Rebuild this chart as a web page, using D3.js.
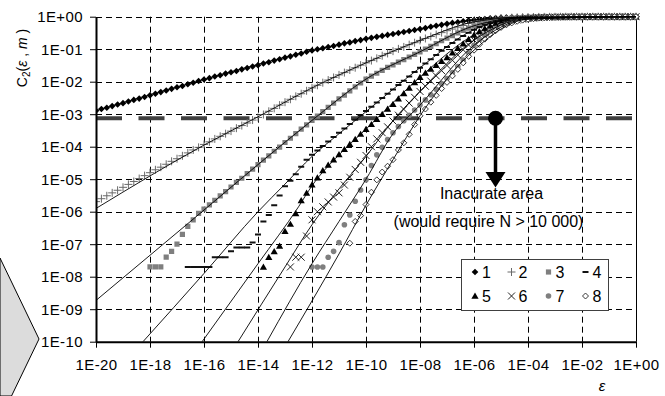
<!DOCTYPE html>
<html><head><meta charset="utf-8">
<script src="https://cdnjs.cloudflare.com/ajax/libs/d3/7.8.5/d3.min.js"></script>
<style>
body{margin:0;background:#fff}
svg{display:block}
text{font-family:"Liberation Sans",Arial,sans-serif;fill:#000}
</style>
</head><body>
<svg id="chart" width="665" height="396"></svg>
<script>
// ---------- DATA (log10 values) ----------
const xTickValues = [1e-20,1e-18,1e-16,1e-14,1e-12,1e-10,1e-8,1e-6,1e-4,1e-2,1];
const xTickLabels = ["1E-20","1E-18","1E-16","1E-14","1E-12","1E-10","1E-08","1E-06","1E-04","1E-02","1E+00"];
const yTickValues = [1e-10,1e-9,1e-8,1e-7,1e-6,1e-5,1e-4,1e-3,1e-2,1e-1,1];
const yTickLabels = ["1E-10","1E-09","1E-08","1E-07","1E-06","1E-05","1E-04","1E-03","1E-02","1E-01","1E+00"];
const seriesNames = ["1","2","3","4","5","6","7","8"];
const thresholdC = 7.5e-4;

// log10(epsilon) sampling of the measured points
const logEps = [
-20,-19.8,-19.6,-19.4,-19.2,-19,-18.8,-18.6,-18.4,-18.2,
-18,-17.8,-17.6,-17.4,-17.2,-17,-16.8,-16.6,-16.4,-16.2,
-16,-15.8,-15.6,-15.4,-15.2,-15,-14.8,-14.6,-14.4,-14.2,
-14,-13.8,-13.6,-13.4,-13.2,-13,-12.8,-12.6,-12.4,-12.2,
-12,-11.8,-11.6,-11.4,-11.2,-11,-10.8,-10.6,-10.4,-10.2,
-10,-9.8,-9.6,-9.4,-9.2,-9,-8.8,-8.6,-8.4,-8.2,
-8,-7.8,-7.6,-7.4,-7.2,-7,-6.8,-6.6,-6.4,-6.2,
-6,-5.8,-5.6,-5.4,-5.2,-5,-4.8,-4.6,-4.4,-4.2,
-4,-3.8,-3.6,-3.4,-3.2,-3,-2.8,-2.6,-2.4,-2.2,
-2,-1.8,-1.6,-1.4,-1.2,-1,-0.8,-0.6,-0.4,-0.2,
0];

// log10 C2(eps, m) for m = 1..8
const logC_m1 = [
-2.89,-2.84,-2.80,-2.75,-2.70,-2.66,-2.61,-2.56,-2.52,-2.47,
-2.42,-2.37,-2.32,-2.27,-2.22,-2.17,-2.13,-2.08,-2.03,-1.98,
-1.93,-1.89,-1.84,-1.80,-1.75,-1.71,-1.67,-1.62,-1.58,-1.53,
-1.49,-1.44,-1.40,-1.35,-1.31,-1.26,-1.22,-1.17,-1.13,-1.08,
-1.04,-1.00,-0.97,-0.93,-0.90,-0.86,-0.82,-0.79,-0.75,-0.72,
-0.68,-0.65,-0.62,-0.59,-0.56,-0.53,-0.50,-0.47,-0.44,-0.41,
-0.38,-0.35,-0.31,-0.28,-0.25,-0.22,-0.19,-0.17,-0.14,-0.12,
-0.10,-0.08,-0.07,-0.05,-0.04,-0.03,-0.025,-0.02,-0.015,-0.012,
-0.010,-0.008,-0.006,-0.004,-0.003,-0.002,-0.001,0,0,0,
0,0,0,0,0,0,0,0,0,0,
0];
const logC_m2 = [
-5.69,-5.60,-5.51,-5.42,-5.34,-5.25,-5.16,-5.07,-4.98,-4.89,
-4.80,-4.71,-4.63,-4.54,-4.45,-4.37,-4.28,-4.19,-4.10,-4.02,
-3.93,-3.85,-3.76,-3.68,-3.60,-3.52,-3.43,-3.35,-3.27,-3.18,
-3.10,-3.01,-2.91,-2.82,-2.72,-2.63,-2.54,-2.45,-2.37,-2.28,
-2.19,-2.11,-2.03,-1.95,-1.87,-1.79,-1.72,-1.64,-1.57,-1.49,
-1.42,-1.35,-1.28,-1.20,-1.13,-1.06,-0.99,-0.93,-0.86,-0.80,
-0.73,-0.67,-0.61,-0.55,-0.49,-0.43,-0.38,-0.32,-0.27,-0.21,
-0.16,-0.13,-0.11,-0.09,-0.07,-0.05,-0.04,-0.03,-0.022,-0.016,
-0.012,-0.009,-0.007,-0.005,-0.004,-0.003,-0.002,-0.001,0,0,
0,0,0,0,0,0,0,0,0,0,
0];
const logC_m3 = [
null,null,null,null,null,null,null,null,null,null,
-7.70,-7.70,-7.70,-7.40,-7.22,-7.00,-6.70,-6.45,-6.25,-6.05,
-5.92,-5.79,-5.65,-5.51,-5.38,-5.24,-5.10,-4.97,-4.83,-4.69,
-4.55,-4.41,-4.28,-4.14,-4.01,-3.87,-3.74,-3.60,-3.46,-3.33,
-3.19,-3.06,-2.92,-2.79,-2.66,-2.53,-2.41,-2.28,-2.16,-2.04,
-1.92,-1.83,-1.74,-1.65,-1.56,-1.48,-1.40,-1.32,-1.24,-1.16,
-1.08,-1.00,-0.91,-0.83,-0.74,-0.66,-0.58,-0.50,-0.42,-0.35,
-0.28,-0.23,-0.18,-0.14,-0.11,-0.08,-0.06,-0.045,-0.035,-0.027,
-0.020,-0.015,-0.011,-0.008,-0.006,-0.004,-0.003,-0.002,-0.001,0,
0,0,0,0,0,0,0,0,0,0,
0];
const logC_m4 = [
null,null,null,null,null,null,null,null,null,null,
null,null,null,null,null,null,null,-7.70,-7.70,-7.70,
-7.70,-7.70,-7.40,-7.40,-7.40,-7.22,-7.10,-7.10,-7.10,-6.95,
-6.70,-6.30,-6.10,-5.80,-5.50,-5.22,-5.05,-4.85,-4.62,-4.40,
-4.25,-4.12,-3.98,-3.84,-3.70,-3.57,-3.44,-3.30,-3.17,-3.04,
-2.90,-2.77,-2.64,-2.50,-2.37,-2.24,-2.10,-1.97,-1.84,-1.70,
-1.57,-1.44,-1.31,-1.18,-1.05,-0.93,-0.81,-0.70,-0.59,-0.49,
-0.40,-0.32,-0.25,-0.19,-0.15,-0.11,-0.085,-0.065,-0.05,-0.038,
-0.030,-0.022,-0.016,-0.012,-0.009,-0.006,-0.004,-0.003,-0.002,-0.001,
0,0,0,0,0,0,0,0,0,0,
0];
const logC_m5 = [
null,null,null,null,null,null,null,null,null,null,
null,null,null,null,null,null,null,null,null,null,
null,null,null,null,null,null,null,null,null,null,
null,-7.70,-7.40,-7.22,-7.05,-6.60,-6.38,-6.05,-5.65,-5.42,
-5.17,-4.95,-4.73,-4.56,-4.40,-4.24,-4.08,-3.92,-3.77,-3.61,
-3.46,-3.31,-3.15,-3.00,-2.84,-2.69,-2.52,-2.36,-2.19,-2.02,
-1.86,-1.73,-1.61,-1.49,-1.37,-1.25,-1.11,-0.97,-0.83,-0.69,
-0.56,-0.45,-0.36,-0.28,-0.21,-0.16,-0.12,-0.09,-0.07,-0.055,
-0.042,-0.032,-0.024,-0.018,-0.013,-0.009,-0.006,-0.004,-0.003,-0.002,
-0.001,0,0,0,0,0,0,0,0,0,
0];
const logC_m6 = [
null,null,null,null,null,null,null,null,null,null,
null,null,null,null,null,null,null,null,null,null,
null,null,null,null,null,null,null,null,null,null,
null,null,null,null,null,null,-7.70,-7.40,-7.40,-6.75,
-6.25,-6.00,-5.85,-5.70,-5.55,-5.42,-5.18,-4.94,-4.70,-4.48,
-4.27,-4.00,-3.76,-3.57,-3.39,-3.21,-3.03,-2.85,-2.66,-2.48,
-2.30,-2.14,-1.98,-1.82,-1.66,-1.50,-1.34,-1.18,-1.02,-0.87,
-0.72,-0.59,-0.47,-0.37,-0.29,-0.22,-0.17,-0.13,-0.10,-0.075,
-0.056,-0.042,-0.031,-0.023,-0.017,-0.012,-0.008,-0.005,-0.003,-0.002,
-0.001,0,0,0,0,0,0,0,0,0,
0];
const logC_m7 = [
null,null,null,null,null,null,null,null,null,null,
null,null,null,null,null,null,null,null,null,null,
null,null,null,null,null,null,null,null,null,null,
null,null,null,null,null,null,null,null,null,null,
-7.70,-7.70,-7.70,-7.40,-7.22,-6.95,-6.40,-6.10,-5.68,-5.33,
-5.02,-4.58,-4.25,-4.02,-3.78,-3.57,-3.38,-3.20,-3.03,-2.87,
-2.72,-2.56,-2.40,-2.23,-2.06,-1.90,-1.72,-1.53,-1.33,-1.11,
-0.88,-0.72,-0.58,-0.46,-0.36,-0.28,-0.21,-0.16,-0.12,-0.09,
-0.068,-0.050,-0.037,-0.027,-0.020,-0.014,-0.010,-0.007,-0.005,-0.003,
-0.002,-0.001,0,0,0,0,0,0,0,0,
0];
const logC_m8 = [
null,null,null,null,null,null,null,null,null,null,
null,null,null,null,null,null,null,null,null,null,
null,null,null,null,null,null,null,null,null,null,
null,null,null,null,null,null,null,null,null,null,
null,null,null,null,null,null,null,-6.97,-6.30,-6.12,
-5.78,-5.40,-5.02,-4.78,-4.60,-4.40,-4.10,-3.88,-3.62,-3.32,
-3.05,-2.84,-2.63,-2.42,-2.21,-2.02,-1.82,-1.62,-1.42,-1.22,
-1.03,-0.85,-0.69,-0.55,-0.43,-0.33,-0.25,-0.19,-0.14,-0.105,
-0.078,-0.058,-0.043,-0.032,-0.023,-0.017,-0.012,-0.008,-0.006,-0.004,
-0.002,-0.001,0,0,0,0,0,0,0,0,
0];

// thin black model curves: [log10 eps, log10 C]
const model_m1 = [[-20,-2.89],[-16,-1.93],[-12,-1.04],[-8,-0.38],[-6,-0.10],[-4,-0.01],[0,0]];
const model_m2 = [[-20,-5.90],[-16,-3.95],[-14,-3.08],[-12,-2.19],[-10,-1.42],[-8,-0.73],[-6,-0.16],[-4,-0.012],[0,0]];
const model_m3 = [[-20,-8.73],[-18,-7.34],[-16,-5.95],[-14,-4.55],[-12,-3.19],[-10,-1.92],[-8,-1.08],[-6,-0.28],[-4,-0.02],[0,0]];
const model_m4 = [[-18.26,-10],[-16,-7.9],[-14,-6.0],[-13,-5.15],[-12,-4.3],[-11,-3.6],[-10,-2.92],[-8,-1.57],[-6,-0.40],[-4,-0.03],[0,0]];
const model_m5 = [[-16.07,-10],[-14,-7.6],[-12.5,-5.85],[-12,-5.2],[-11,-4.25],[-10,-3.46],[-8,-1.86],[-6,-0.56],[-4,-0.04],[0,0]];
const model_m6 = [[-14.74,-10],[-13,-7.7],[-12,-6.4],[-11,-5.3],[-10,-4.3],[-9,-3.2],[-8,-2.3],[-6,-0.72],[-4,-0.056],[0,0]];
const model_m7 = [[-13.67,-10],[-12,-7.6],[-11,-6.3],[-10,-5.0],[-9,-3.6],[-8,-2.72],[-6,-0.88],[-4,-0.07],[0,0]];
const model_m8 = [[-12.89,-10],[-11,-7.3],[-10,-5.8],[-9,-4.4],[-8,-3.05],[-6,-1.03],[-4,-0.08],[0,0]];

const allSeries = [logC_m1,logC_m2,logC_m3,logC_m4,logC_m5,logC_m6,logC_m7,logC_m8];
const allModels = [model_m1,model_m2,model_m3,model_m4,model_m5,model_m6,model_m7,model_m8];
const markerTypes = ["diamond","plus","square","dash","triangle","cross","circle","hdiamond"];

// ---------- CHART ----------
const svg = d3.select("#chart");
const x = d3.scaleLog().domain([1e-20, 1]).range([96, 636]);
const y = d3.scaleLog().domain([1e-10, 1]).range([341.7, 16.7]);
const X0 = 96, X1 = 636, Y0 = 341.7, Y1 = 16.7;

// left chevron decoration
svg.append("path").attr("d","M0,258 L39,339 L11.5,396 L0,396 Z")
  .attr("fill","#dcdcdc").attr("stroke","#000").attr("stroke-width",1);

// gridlines
const grid = svg.append("g").attr("stroke","#000").attr("stroke-width",1).attr("stroke-dasharray","6,4");
grid.selectAll(".h").data(yTickValues.slice(1)).join("line")
  .attr("x1",X0).attr("x2",X1).attr("y1",d=>Math.round(y(d))+0.5).attr("y2",d=>Math.round(y(d))+0.5);
grid.selectAll(".v").data(xTickValues.slice(1,-1)).join("line")
  .attr("x1",d=>Math.round(x(d))+0.5).attr("x2",d=>Math.round(x(d))+0.5).attr("y1",Y1).attr("y2",Y0);

// right border
svg.append("line").attr("x1",X1+0.5).attr("x2",X1+0.5).attr("y1",Y1).attr("y2",Y0).attr("stroke","#000").attr("stroke-width",1);

// threshold dashed line
svg.append("line").attr("x1",X0).attr("x2",X1).attr("y1",y(thresholdC)).attr("y2",y(thresholdC))
  .attr("stroke","#404040").attr("stroke-width",4).attr("stroke-dasharray","26,16.5");

// clip
svg.append("clipPath").attr("id","clip").append("rect").attr("x",X0).attr("y",Y1-6).attr("width",X1-X0+4).attr("height",Y0-Y1+6);
const plot = svg.append("g").attr("clip-path","url(#clip)");

function markerPath(t){
  switch(t){
    case "diamond": return "M0,-3.3L3.3,0L0,3.3L-3.3,0Z";
    case "hdiamond": return "M0,-3L3,0L0,3L-3,0Z";
    case "square": return "M-2.6,-2.6H2.6V2.6H-2.6Z";
    case "triangle": return "M0,-3.4L3.6,2.8H-3.6Z";
    case "plus": return "M-4,0H4M0,-4V4";
    case "cross": return "M-3.5,-3.5L3.5,3.5M-3.5,3.5L3.5,-3.5";
    case "dash": return "M-3,0H3";
    case "circle": return "M2.8,0A2.8,2.8 0 1,1 -2.8,0A2.8,2.8 0 1,1 2.8,0Z";
  }
}
function markerStyle(sel,t){
  if(t==="diamond"||t==="triangle") sel.attr("fill","#000").attr("stroke","none");
  else if(t==="square"||t==="circle") sel.attr("fill","#7f7f7f").attr("stroke","none");
  else if(t==="hdiamond") sel.attr("fill","#fff").attr("stroke","#222").attr("stroke-width",0.9);
  else if(t==="plus") sel.attr("fill","none").attr("stroke","#6a6a6a").attr("stroke-width",1);
  else if(t==="cross") sel.attr("fill","none").attr("stroke","#222").attr("stroke-width",1);
  else if(t==="dash") sel.attr("fill","none").attr("stroke","#111").attr("stroke-width",2);
}

allSeries.forEach((arr,si)=>{
  const pts = logEps.map((e,i)=>({e:e,c:arr[i]})).filter(d=>d.c!==null);
  const g = plot.append("g");
  const m = g.selectAll("path").data(pts).join("path")
    .attr("d",markerPath(markerTypes[si]))
    .attr("transform",d=>`translate(${x(Math.pow(10,d.e))},${y(Math.pow(10,d.c))})`);
  markerStyle(m,markerTypes[si]);
});

const lineGen = d3.line().x(d=>x(Math.pow(10,d[0]))).y(d=>y(Math.pow(10,d[1]))).curve(d3.curveMonotoneX);
allModels.forEach(mdl=>{
  plot.append("path").attr("d",lineGen(mdl)).attr("fill","none").attr("stroke","#000").attr("stroke-width",0.9);
});

// axes
const yAxis = d3.axisLeft(y).tickValues(yTickValues).tickFormat((d,i)=>yTickLabels[i]).tickSize(6).tickSizeOuter(0).tickPadding(7);
const gy = svg.append("g").attr("transform",`translate(${X0},0)`).call(yAxis);
const xAxis = d3.axisBottom(x).tickValues(xTickValues).tickFormat((d,i)=>xTickLabels[i]).tickSize(6).tickSizeOuter(0).tickPadding(12);
const gx = svg.append("g").attr("transform",`translate(0,${Y0})`).call(xAxis);
[gx,gy].forEach(g=>{
  g.select(".domain").attr("stroke","#000").attr("stroke-width",2);
  g.selectAll(".tick line").attr("stroke","#000").attr("stroke-width",1);
  g.selectAll("text").attr("font-size",15).attr("font-family","Liberation Sans, Arial, sans-serif").attr("fill","#000").style("letter-spacing","0.4px");
});

// axis titles
const yt = svg.append("text").attr("transform","translate(27,58) rotate(-90)").attr("text-anchor","middle").attr("font-size",14);
yt.append("tspan").text("C");
yt.append("tspan").attr("font-size",10).attr("dy",3).text("2");
yt.append("tspan").attr("dy",-3).text("(");
yt.append("tspan").attr("font-style","italic").text("ε");
yt.append("tspan").text(" , ");
yt.append("tspan").attr("font-style","italic").text("m");
yt.append("tspan").text(" )");
svg.append("text").attr("x",602).attr("y",391).attr("text-anchor","middle").attr("font-size",15).attr("font-style","italic").text("ε");

// annotation: circle + arrow
const ax = 495.5, ay = y(thresholdC);
svg.append("circle").attr("cx",ax).attr("cy",ay).attr("r",7.5).attr("fill","#000");
svg.append("line").attr("x1",ax).attr("x2",ax).attr("y1",ay).attr("y2",174).attr("stroke","#000").attr("stroke-width",3.5);
svg.append("path").attr("d",`M${ax-10},172L${ax+10},172L${ax},187.5Z`).attr("fill","#000");
svg.append("text").attr("x",491.5).attr("y",198.5).attr("text-anchor","middle").attr("font-size",16).text("Inacurate area");
svg.append("text").attr("x",488.5).attr("y",226.5).attr("text-anchor","middle").attr("font-size",16).text("(would require N > 10 000)");

// legend
const lg = svg.append("g");
lg.append("rect").attr("x",461.5).attr("y",259.5).attr("width",147).attr("height",51).attr("fill","#fff").attr("stroke","#404040").attr("stroke-width",1);
const legX = [475, 511.5, 548.5, 585.5];
const legY = [272, 296];
seriesNames.forEach((nm,i)=>{
  const cx = legX[i%4], cy = legY[Math.floor(i/4)];
  const m = lg.append("path").attr("d",markerPath(markerTypes[i])).attr("transform",`translate(${cx},${cy})`);
  markerStyle(m,markerTypes[i]);
  lg.append("text").attr("x",cx+7).attr("y",cy+5.5).attr("font-size",16).text(nm);
});
</script>
</body></html>
